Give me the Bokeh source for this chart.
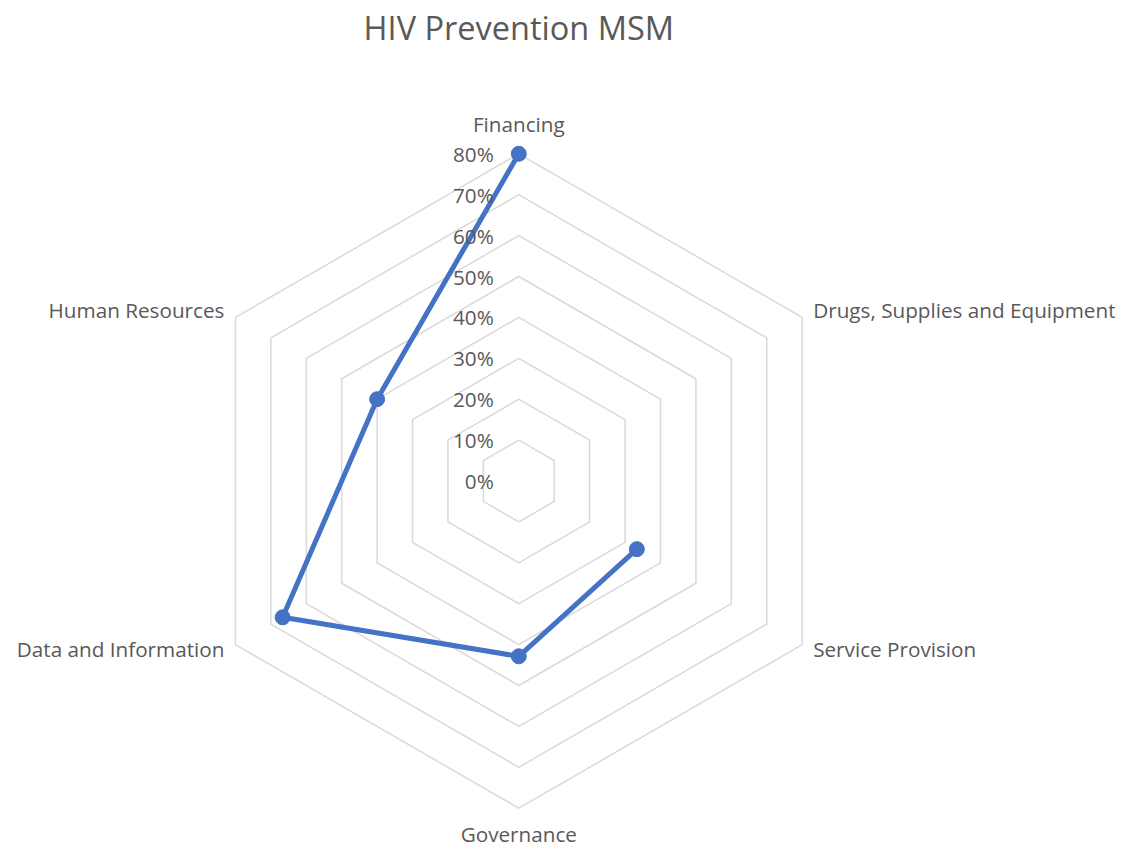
import numpy as np
from bokeh.plotting import figure
from bokeh.embed import file_html
from bokeh.resources import INLINE
from bokeh.core.properties import value

title = "HIV Prevention MSM"
categories = ["Financing", "Drugs, Supplies and Equipment", "Service Provision",
              "Governance", "Data and Information", "Human Resources"]
values = [0.80, None, 0.3333, 0.4286, 0.6667, 0.40]
ring_levels = [0.0, 0.1, 0.2, 0.3, 0.4, 0.5, 0.6, 0.7, 0.8]
tick_labels = ["0%", "10%", "20%", "30%", "40%", "50%", "60%", "70%", "80%"]

FONT = "Open Sans"
TXT = "#595959"
GRID = "#D9D9D9"
LINE = "#4472C4"

W, H = 1115, 847
scale = 409.0
cx, cy = 518.3, 480.5
p = figure(width=W, height=H, output_backend="svg", toolbar_location=None,
           x_range=(-cx / scale, (W - cx) / scale),
           y_range=(-(H - cy) / scale, cy / scale),
           min_border=0, x_axis_location=None, y_axis_location=None)
p.grid.visible = False
p.outline_line_color = None
p.background_fill_color = "white"
p.border_fill_color = "white"

n = len(categories)
ang = np.pi / 2 - np.arange(n) * 2 * np.pi / n

# rings
for lv in ring_levels[1:]:
    xs = list(lv * np.cos(ang)) + [lv * np.cos(ang[0])]
    ys = list(lv * np.sin(ang)) + [lv * np.sin(ang[0])]
    p.line(xs, ys, line_color=GRID, line_width=1.5)

# series
vx, vy = [], []
for a, v in zip(ang, values):
    if v is None:
        vx.append(np.nan); vy.append(np.nan)
    else:
        vx.append(v * np.cos(a)); vy.append(v * np.sin(a))
p.line(vx + [vx[0]], vy + [vy[0]], line_color=LINE, line_width=5, line_join="round")
mx = [x for x in vx if not np.isnan(x)]
my = [y for y in vy if not np.isnan(y)]
p.scatter(mx, my, size=15, fill_color=LINE, line_color=LINE)

# tick labels
p.text(x=[-25 / scale] * len(ring_levels), y=ring_levels, text=tick_labels,
       text_align="right", text_baseline="middle", text_color=TXT,
       text_font=value(FONT), text_font_size="20.7px")

# category labels
outer = ring_levels[-1]
lx, ly, la = [], [], []
for a in ang:
    c, s = np.cos(a), np.sin(a)
    if abs(c) < 1e-6:
        lx.append(0.0)
        ly.append(outer + 29.5 / scale if s > 0 else -(outer + 25.5 / scale))
        la.append("center")
    else:
        lx.append(outer * c + np.sign(c) * 11 / scale)
        ly.append(outer * s + (7.5 if s > 0 else -4.5) / scale)
        la.append("left" if c > 0 else "right")
p.text(x=lx, y=ly, text=categories, text_align=la, text_baseline="middle",
       text_color=TXT, text_font=value(FONT), text_font_size="20.7px")

# title
p.text(x=[0], y=[(cy - 27) / scale], text=[title], text_align="center",
       text_baseline="middle", text_color=TXT, text_font=value(FONT),
       text_font_size="32.5px")

open("out.html", "w").write(file_html(p, INLINE))
